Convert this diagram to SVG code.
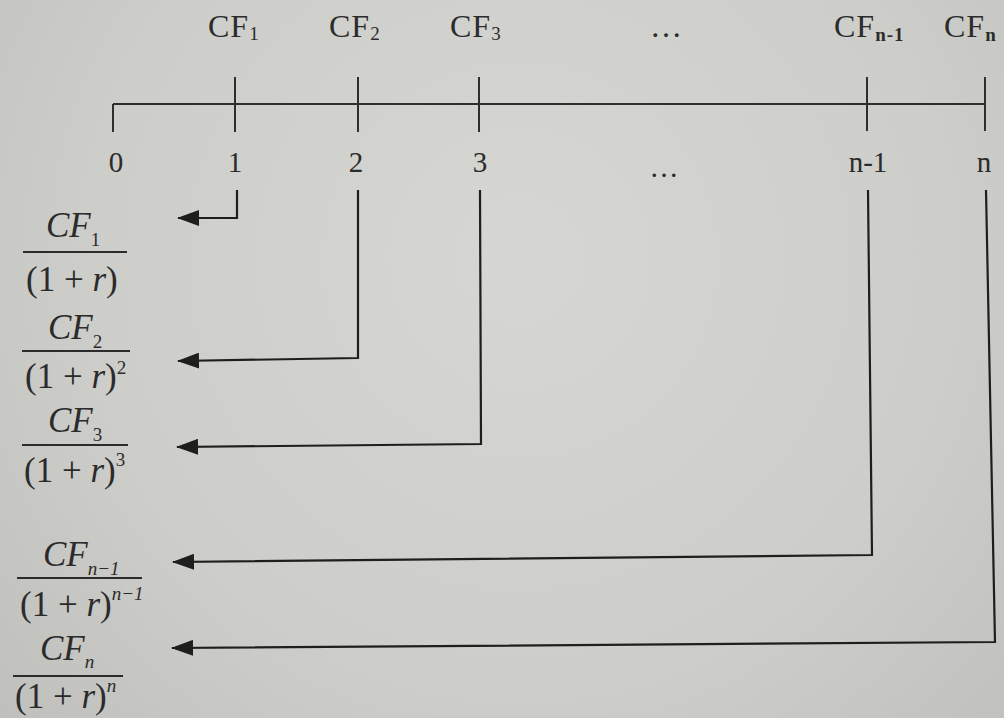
<svg xmlns="http://www.w3.org/2000/svg" width="1004" height="718" viewBox="0 0 1004 718">
<defs>
<radialGradient id="bg" cx="520" cy="260" r="720" gradientUnits="userSpaceOnUse">
<stop offset="0" stop-color="#d6d6d2"/>
<stop offset="0.6" stop-color="#cdcdc9"/>
<stop offset="1" stop-color="#bebeba"/>
</radialGradient>
<marker id="ah" viewBox="0 0 22 16" refX="21" refY="8" markerWidth="22" markerHeight="16" markerUnits="userSpaceOnUse" orient="auto">
<path d="M0,0 L22,8 L0,16 z" fill="#1e1e1e"/>
</marker>
<style>
.ln{stroke:#2e2e2e;stroke-width:2;fill:none}
.cn{stroke:#1e1e1e;stroke-width:2.2;fill:none}
.lbl{font-family:"Liberation Serif",serif;fill:#2b2b2b}
.top{font-size:32px;letter-spacing:1px}
.num{font-size:29px}
.it{font-style:italic}
.fr{font-size:35px}
.sm{font-size:19px}
.bar{stroke:#2b2b2b;stroke-width:2.2}
</style>
</defs>
<rect x="0" y="0" width="1004" height="718" fill="url(#bg)"/>

<g id="timeline">
<line class="ln" x1="113" y1="104" x2="985" y2="104"/>
<line class="ln" x1="113" y1="104" x2="113" y2="132"/>
<line class="ln" x1="235" y1="77" x2="235" y2="132"/>
<line class="ln" x1="358" y1="77" x2="358" y2="132"/>
<line class="ln" x1="479" y1="77" x2="479" y2="132"/>
<line class="ln" x1="867" y1="77" x2="867" y2="131"/>
<line class="ln" x1="985" y1="77" x2="985" y2="131"/>
</g>

<g id="cash-flow-labels" class="lbl top">
<text x="208" y="37">CF<tspan class="sm" dy="3">1</tspan></text>
<text x="329" y="37">CF<tspan class="sm" dy="3">2</tspan></text>
<text x="450" y="37">CF<tspan class="sm" dy="3">3</tspan></text>
<text x="650" y="37">…</text>
<text x="834" y="37">CF<tspan class="sm" dy="4" font-weight="bold">n-1</tspan></text>
<text x="944" y="37">CF<tspan class="sm" dy="4" font-weight="bold">n</tspan></text>
</g>

<g id="period-labels" class="lbl num" text-anchor="middle">
<text x="116" y="172">0</text>
<text x="235" y="172">1</text>
<text x="356" y="172">2</text>
<text x="480" y="172">3</text>
<text x="664" y="177">…</text>
<text x="868" y="172">n-1</text>
<text x="984" y="172">n</text>
</g>

<g id="connectors">
<path class="cn" d="M237,190 L237,218 L178,218" marker-end="url(#ah)"/>
<path class="cn" d="M358,190 L358,358 L178,361" marker-end="url(#ah)"/>
<path class="cn" d="M480,190 L481,444 L177,447" marker-end="url(#ah)"/>
<path class="cn" d="M868,190 L872,555 L173,562" marker-end="url(#ah)"/>
<path class="cn" d="M986,190 L995,642 L172,648" marker-end="url(#ah)"/>
</g>

<g id="pv1" class="lbl fr">
<text x="46" y="237" class="it">CF<tspan class="sm" font-style="normal" dy="9">1</tspan></text>
<line class="bar" x1="23" y1="252" x2="127" y2="252"/>
<text x="26" y="291">(1 + <tspan class="it">r</tspan>)</text>
</g>

<g id="pv2" class="lbl fr">
<text x="48" y="339" class="it">CF<tspan class="sm" font-style="normal" dy="9">2</tspan></text>
<line class="bar" x1="22" y1="351" x2="130" y2="351"/>
<text x="25" y="388">(1 + <tspan class="it">r</tspan>)<tspan class="sm" dy="-14">2</tspan></text>
</g>

<g id="pv3" class="lbl fr">
<text x="48" y="432" class="it">CF<tspan class="sm" font-style="normal" dy="9">3</tspan></text>
<line class="bar" x1="22" y1="445" x2="128" y2="445"/>
<text x="24" y="482">(1 + <tspan class="it">r</tspan>)<tspan class="sm" dy="-16">3</tspan></text>
</g>

<g id="pvn1" class="lbl fr">
<text x="43" y="566" class="it">CF<tspan class="sm" dy="9">n−1</tspan></text>
<line class="bar" x1="17" y1="578" x2="142" y2="578"/>
<text x="20" y="616">(1 + <tspan class="it">r</tspan>)<tspan class="sm it" dy="-16">n−1</tspan></text>
</g>

<g id="pvn" class="lbl fr">
<text x="40" y="660" class="it">CF<tspan class="sm" dy="8">n</tspan></text>
<line class="bar" x1="13" y1="676" x2="123" y2="676"/>
<text x="15" y="708">(1 + <tspan class="it">r</tspan>)<tspan class="sm it" dy="-16">n</tspan></text>
</g>
</svg>
